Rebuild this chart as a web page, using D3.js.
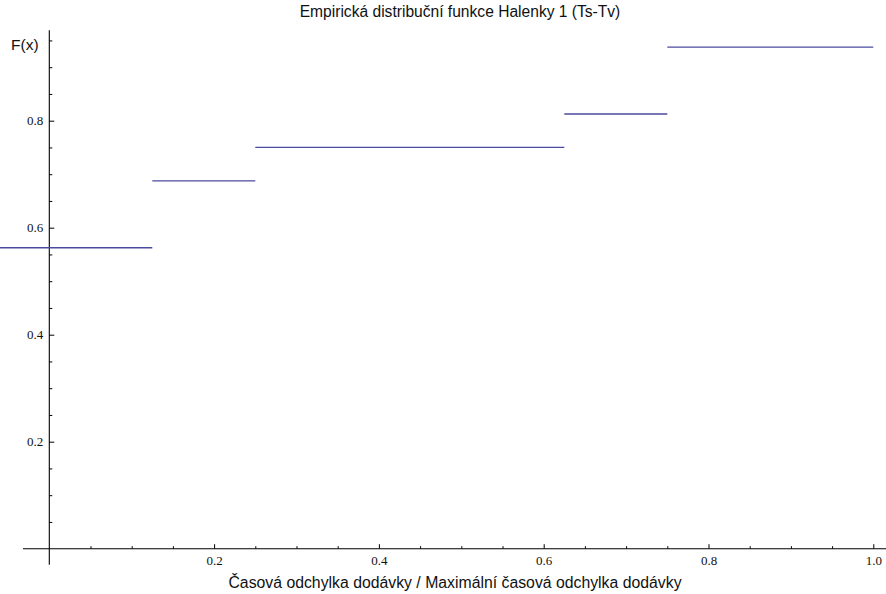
<!DOCTYPE html>
<html>
<head>
<meta charset="utf-8">
<script src="https://cdn.jsdelivr.net/npm/d3@7"></script>
<style>
  html, body { margin: 0; padding: 0; background: #fff; }
  svg { display: block; }
</style>
</head>
<body>
<svg id="chart" width="886" height="594"></svg>
<script>
// Step boundaries of the empirical distribution function and its levels
const stepStarts = [-0.06, 0.125, 0.25, 0.625, 0.75];
const stepEnds   = [0.125, 0.25, 0.625, 0.75, 1.0];
const stepValues = [0.5625, 0.6875, 0.75, 0.8125, 0.9375];

const xTickLabels = ["0.2", "0.4", "0.6", "0.8", "1.0"];
const yTickLabels = ["0.2", "0.4", "0.6", "0.8"];

const titleText = "Empirická distribuční funkce Halenky 1 (Ts-Tv)";
const xTitle = "Časová odchylka dodávky / Maximální časová odchylka dodávky";
const yTitle = "F(x)";

const W = 886, H = 594;
const svg = d3.select("#chart");

// Origin at (49.3, 548.7); 1 x-unit ≈ 824 px, 1 y-unit ≈ 535 px
const x = d3.scaleLinear().domain([0, 1]).range([49.3, 873.3]);
const y = d3.scaleLinear().domain([0, 1]).range([548.7, 13.7]);

const axisColor = "#000";
const tickFont = "'Liberation Serif', 'Times New Roman', serif";
const labelFont = "'Liberation Sans', Arial, sans-serif";

// x axis (through y = 0)
const xAxis = d3.axisBottom(x)
  .tickValues(d3.range(1, 21).map(i => i * 0.05))
  .tickSizeOuter(0)
  .tickSizeInner(0)
  .tickFormat(() => "");
const gx = svg.append("g").attr("transform", `translate(0,${y(0)})`).call(xAxis);
gx.select(".domain").remove();
gx.append("line")
  .attr("x1", x(-0.032)).attr("x2", W)
  .attr("y1", 0).attr("y2", 0)
  .attr("stroke", axisColor).attr("stroke-width", 1.1);
gx.selectAll(".tick line")
  .attr("y2", (d, i) => ((i + 1) % 4 === 0 ? -4.5 : -2.5))
  .attr("stroke", axisColor).attr("stroke-width", 1);
gx.selectAll(".tick")
  .filter((d, i) => (i + 1) % 4 === 0)
  .append("text")
  .attr("y", 12)
  .attr("dy", "0.32em")
  .attr("text-anchor", "middle")
  .attr("fill", "#111")
  .style("font-family", tickFont)
  .style("font-size", "13px")
  .text((d, i) => xTickLabels[i]);

// y axis (through x = 0)
const yAxis = d3.axisLeft(y)
  .tickValues(d3.range(1, 20).map(i => i * 0.05))
  .tickSizeOuter(0)
  .tickSizeInner(0)
  .tickFormat(() => "");
const gy = svg.append("g").attr("transform", `translate(${x(0)},0)`).call(yAxis);
gy.select(".domain").remove();
gy.append("line")
  .attr("x1", 0).attr("x2", 0)
  .attr("y1", y(-0.03)).attr("y2", y(0.969))
  .attr("stroke", axisColor).attr("stroke-width", 1.1);
gy.selectAll(".tick line")
  .attr("x2", (d, i) => ((i + 1) % 4 === 0 ? 5 : 3))
  .attr("stroke", axisColor).attr("stroke-width", 1);
gy.selectAll(".tick")
  .filter((d, i) => (i + 1) % 4 === 0)
  .append("text")
  .attr("x", -6)
  .attr("dy", "0.32em")
  .attr("text-anchor", "end")
  .attr("fill", "#111")
  .style("font-family", tickFont)
  .style("font-size", "13px")
  .text((d, i) => yTickLabels[i]);

// Horizontal steps
svg.append("g")
  .selectAll("line")
  .data(stepValues)
  .join("line")
  .attr("x1", (d, i) => x(stepStarts[i]))
  .attr("x2", (d, i) => x(stepEnds[i]))
  .attr("y1", d => y(d))
  .attr("y2", d => y(d))
  .attr("stroke", "#4a4a9e")
  .attr("stroke-width", 1.3);

// Titles
svg.append("text")
  .attr("x", 460).attr("y", 17)
  .attr("text-anchor", "middle")
  .attr("fill", "#111")
  .style("font-family", labelFont)
  .style("font-size", "15.6px")
  .text(titleText);

svg.append("text")
  .attr("x", 455).attr("y", 588)
  .attr("text-anchor", "middle")
  .attr("fill", "#111")
  .style("font-family", labelFont)
  .style("font-size", "15.8px")
  .text(xTitle);

svg.append("text")
  .attr("x", 11).attr("y", 50)
  .attr("fill", "#111")
  .style("font-family", labelFont)
  .style("font-size", "15.5px")
  .text(yTitle);
</script>
</body>
</html>
